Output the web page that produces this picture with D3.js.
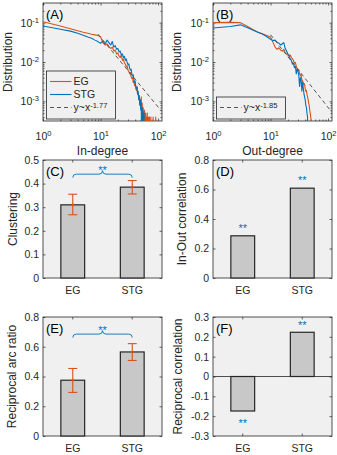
<!DOCTYPE html>
<html>
<head>
<meta charset="utf-8">
<script src="https://cdn.jsdelivr.net/npm/d3@7"></script>
<style>
  body { margin: 0; background: #fff; }
  svg { display: block; }
</style>
</head>
<body>
<script>
// degree distributions: value i belongs to degree i + 1 (0 = no node with that degree)
const egIn = [
  0.106, 0.082, 0.070, 0.062, 0.057, 0.054, 0.051, 0.049, 0.047, 0.044,
  0.031, 0.027, 0.029, 0.025, 0.022, 0.024, 0.019, 0.020, 0.016, 0.017,
  0.014, 0.013, 0.015, 0.011, 0.012, 0.0095, 0.0088, 0.0075, 0.0080, 0.0062,
  0.0058, 0.0050, 0.0054, 0.0042, 0.0038, 0.0040, 0.0030, 0.0033, 0.0025, 0.0028,
  0.0021, 0.0019, 0.0024, 0.0015, 0.0017, 0.0012, 0.0014, 0.0009, 0.0011, 0.0007,
  0.0013, 0.0005, 0.0009, 0, 0.0007, 0.0005, 0, 0.0006, 0.0004, 0,
  0.0005, 0, 0.0004, 0, 0.0005, 0, 0, 0.0004, 0, 0,
  0.0004, 0, 0, 0, 0.0004, 0, 0, 0, 0, 0,
  0, 0.0004, 0, 0, 0, 0, 0, 0, 0, 0, 0.0004, 0
];
const stgIn = [
  0.082, 0.068, 0.061, 0.054, 0.048, 0.043, 0.040, 0.036, 0.033, 0.030,
  0.034, 0.029, 0.036, 0.031, 0.027, 0.033, 0.024, 0.026, 0.021, 0.022,
  0.018, 0.019, 0.015, 0.016, 0.013, 0.014, 0.011, 0.012, 0.0098, 0.0085,
  0.0090, 0.0070, 0.0062, 0.0066, 0.0050, 0.0044, 0.0047, 0.0035, 0.0030, 0.0033,
  0.0024, 0.0021, 0.0023, 0.0016, 0.0018, 0.0011, 0.0014, 0.0008, 0.0011, 0.0006,
  0.0009, 0, 0.0007, 0, 0.0005, 0, 0.0005, 0
];
const egOut = [
  0.100, 0.102, 0.100, 0.080, 0.066, 0.058, 0.053, 0.049, 0.046, 0.043,
  0.032, 0.024, 0.021, 0.023, 0.020, 0.019, 0.021, 0.017, 0.016, 0.015,
  0.014, 0.015, 0.013, 0.012, 0.011, 0.0092, 0.0098, 0.0078, 0.0068, 0.0060,
  0.0064, 0.0050, 0.0045, 0.0048, 0.0036, 0.0033, 0.0030, 0.0026, 0.0028, 0.0021,
  0.0018, 0.0019, 0.0015, 0.0013, 0.0011, 0.0009, 0.0008, 0.0006, 0.0005, 0.0004,
  0.0003, 0
];
const stgOut = [
  0.073, 0.080, 0.088, 0.074, 0.064, 0.057, 0.052, 0.047, 0.042, 0.038,
  0.035, 0.036, 0.032, 0.030, 0.027, 0.029, 0.031, 0.022, 0.019, 0.016,
  0.015, 0.012, 0.011, 0.0088, 0.0094, 0.0072, 0.0078, 0.0050, 0.0066, 0.0058,
  0.0045, 0.0024, 0.0040, 0.0035, 0.0018, 0.0031, 0.0022, 0.0016, 0.0013, 0.0011,
  0.0008, 0.0007, 0.0005, 0.0004, 0
];
// power-law guides y = c * x^-a, [in, out]
const fitExp = [1.77, 1.85];
const fitCoef = [2.5, 3.5];
const fitStart = [9, 10];

const groups = ['EG', 'STG'];
const clustering = [0.31, 0.385];
const clusteringErr = [[0.268, 0.355], [0.356, 0.413]];
const inOutCorr = [0.286, 0.609];
const recipRatio = [0.375, 0.565];
const recipRatioErr = [[0.293, 0.454], [0.508, 0.621]];
const recipCorr = [-0.174, 0.223];

const BG = '#f0f0f0', INK = '#262626', ORANGE = '#D95319', BLUE = '#0072BD', BAR = '#c8c8c8';
const FONT = "'Liberation Sans', Arial, Helvetica, sans-serif";
const TICK = 2.5, MINOR = 1.5;

const svg = d3.select('body').append('svg')
  .attr('width', 337).attr('height', 455)
  .style('font-family', FONT);

const layout = {
  A: [43, 162, 3, 121], B: [213, 332, 3, 121],
  C: [43, 162, 160, 278], D: [213, 332, 160, 278],
  E: [43, 162, 317, 436], F: [213, 332, 317, 436]
};

const makePanel = key => {
  const [x0, x1, y0, y1] = layout[key];
  const w = x1 - x0, h = y1 - y0;
  const g = svg.append('g').attr('transform', `translate(${x0},${y0})`);
  g.append('rect').attr('width', w).attr('height', h).attr('fill', BG);
  g.append('clipPath').attr('id', 'clip' + key)
    .append('rect').attr('width', w).attr('height', h);
  return { g, w, h, key };
};

const sup = (sel, base, exp) => {
  sel.text(null);
  sel.append('tspan').text(base);
  sel.append('tspan').attr('dy', '-0.5em').attr('font-size', '0.72em').text(exp);
};

const styleAxis = sel => {
  sel.select('.domain').remove();
  sel.attr('font-family', FONT);
  sel.selectAll('line').attr('stroke', INK).attr('stroke-width', 0.7);
  sel.selectAll('text').attr('fill', INK);
};

// inward ticks on all four sides, labels only bottom/left
const addAxes = (p, x, y, o) => {
  const { g, w, h } = p;
  const sets = [[o.xv, o.yv, TICK], [o.xm || [], o.ym || [], MINOR]];
  sets.forEach(([xv, yv, len], i) => {
    const bx = d3.axisBottom(x).tickValues(xv).tickSize(-len).tickPadding(o.xPad)
      .tickFormat(i === 0 ? o.xf : '');
    g.append('g').attr('transform', `translate(0,${h})`).call(bx).call(styleAxis)
      .attr('font-size', 10.5);
    g.append('g').call(d3.axisTop(x).tickValues(xv).tickSize(-len).tickFormat('')).call(styleAxis);
    const ly = d3.axisLeft(y).tickValues(yv).tickSize(-len).tickPadding(4)
      .tickFormat(i === 0 ? o.yf : '');
    g.append('g').call(ly).call(styleAxis).attr('font-size', 10.5);
    g.append('g').attr('transform', `translate(${w},0)`)
      .call(d3.axisRight(y).tickValues(yv).tickSize(-len).tickFormat('')).call(styleAxis);
  });
  g.append('rect').attr('width', w).attr('height', h)
    .attr('fill', 'none').attr('stroke', INK).attr('stroke-width', 0.8);
};

const panelLabel = (p, t) =>
  p.g.append('text').attr('x', 3).attr('y', 16).attr('font-size', 13).attr('fill', '#000').text(t);

const yLabel = (p, cx, t) =>
  svg.append('text')
    .attr('transform', `translate(${cx},${layout[p.key][2] + p.h / 2}) rotate(-90)`)
    .attr('text-anchor', 'middle').attr('dy', '0.35em')
    .attr('font-size', 12).attr('fill', INK).text(t);

const xLabel = (p, t) =>
  p.g.append('text').attr('x', p.w / 2).attr('y', p.h + 33.5)
    .attr('text-anchor', 'middle').attr('font-size', 12).attr('fill', INK).text(t);

// ---------- degree distribution panels ----------
const degreePanel = (key, eg, stg, fi, label, xl, ylx, legendFull) => {
  const p = makePanel(key);
  const x = d3.scaleLog().domain([1, 117]).range([0, p.w]);
  const y = d3.scaleLog().domain([Math.pow(10, -3.5), Math.pow(10, -0.5)]).range([p.h, 0]);

  const minorX = [2, 3, 4, 5, 6, 7, 8, 9, 20, 30, 40, 50, 60, 70, 80, 90];
  const minorY = [];
  [1e-4, 1e-3, 1e-2, 1e-1].forEach(d => d3.range(2, 10).forEach(m => {
    const v = d * m;
    if (v > y.domain()[0] && v < y.domain()[1]) minorY.push(v);
  }));

  addAxes(p, x, y, {
    xv: [1, 10, 100], yv: [1e-3, 1e-2, 1e-1], xm: minorX, ym: minorY,
    xf: d => d, yf: d => d, xPad: 11.5
  });
  // 10^n tick labels
  p.g.selectAll('.tick text').each(function(d) {
    const t = d3.select(this);
    if (!t.text()) return;
    sup(t, '10', Math.round(Math.log10(d)).toString());
  });

  const line = d3.line()
    .x(d => x(d[0]))
    .y(d => y(Math.max(d[1], 1e-5)));
  const plot = p.g.append('g').attr('clip-path', `url(#clip${key})`);
  [[eg, ORANGE], [stg, BLUE]].forEach(([s, c]) => {
    plot.append('path')
      .datum(s.map((v, i) => [i + 1, v]))
      .attr('d', line).attr('fill', 'none').attr('stroke', c)
      .attr('stroke-width', 1.1).attr('stroke-linejoin', 'round');
  });
  const fit = [fitStart[fi], x.domain()[1]].map(k => [k, fitCoef[fi] * Math.pow(k, -fitExp[fi])]);
  plot.append('path').datum(fit).attr('d', line).attr('fill', 'none')
    .attr('stroke', '#555').attr('stroke-width', 1).attr('stroke-dasharray', '4,3');

  panelLabel(p, label);
  xLabel(p, xl);
  yLabel(p, ylx, 'Distribution');

  // legend
  const lg = p.g.append('g');
  const rows = legendFull
    ? [['EG', ORANGE, null], ['STG', BLUE, null], ['fit', '#555', '4,3']]
    : [['fit', '#555', '4,3']];
  const lx = 3.5, lw = 69, rowH = 13;
  const lh = rows.length * rowH + 9;
  const ly = p.h - 2 - lh;
  lg.append('rect').attr('x', lx).attr('y', ly).attr('width', lw).attr('height', lh)
    .attr('fill', BG).attr('stroke', INK).attr('stroke-width', 0.8);
  rows.forEach(([name, c, dash], i) => {
    const cy = ly + 10.5 + i * rowH;
    lg.append('line').attr('x1', lx + 3.5).attr('x2', lx + 25)
      .attr('y1', cy).attr('y2', cy).attr('stroke', c).attr('stroke-width', 1.1)
      .attr('stroke-dasharray', dash);
    const t = lg.append('text').attr('x', lx + 27).attr('y', cy).attr('dy', '0.36em')
      .attr('font-size', 10.5).attr('fill', INK);
    if (name === 'fit') sup(t, 'y~x', '-' + fitExp[fi].toFixed(2));
    else t.text(name);
  });
};

degreePanel('A', egIn, stgIn, 0, '(A)', 'In-degree', 7.5, true);
degreePanel('B', egOut, stgOut, 1, '(B)', 'Out-degree', 177, false);

// ---------- bar panels ----------
const fmt = d => Math.abs(d) < 1e-9 ? '0' : d.toFixed(1);

const brace = (g, x1, x2, yb) => {
  const m = (x1 + x2) / 2, r = 3.5;
  const pth = d3.path();
  pth.moveTo(x1, yb + r);
  pth.quadraticCurveTo(x1, yb, x1 + r, yb);
  pth.lineTo(m - r, yb);
  pth.quadraticCurveTo(m, yb, m, yb - r);
  pth.quadraticCurveTo(m, yb, m + r, yb);
  pth.lineTo(x2 - r, yb);
  pth.quadraticCurveTo(x2, yb, x2, yb + r);
  g.append('path').attr('d', pth.toString()).attr('fill', 'none')
    .attr('stroke', BLUE).attr('stroke-width', 0.9);
};

const stars = (g, cx, cy) =>
  g.append('text').attr('x', cx).attr('y', cy + 6.3).attr('text-anchor', 'middle')
    .attr('font-size', 11).attr('fill', BLUE).text('**');

const barPanel = (key, values, domain, nTicks, label, ylText, ylx, opts) => {
  const p = makePanel(key);
  const x = d3.scaleBand().domain(groups).range([0, p.w]).paddingInner(0.6).paddingOuter(0.3);
  const y = d3.scaleLinear().domain(domain).range([p.h, 0]);

  addAxes(p, x, y, { xv: groups, yv: y.ticks(nTicks), xf: d => d, yf: fmt, xPad: 8.5 });

  if (domain[0] < 0) {
    p.g.append('line').attr('x1', 0).attr('x2', p.w).attr('y1', y(0)).attr('y2', y(0))
      .attr('stroke', INK).attr('stroke-width', 0.8);
  }

  p.g.selectAll('rect.bar').data(groups).join('rect').attr('class', 'bar')
    .attr('x', d => x(d))
    .attr('width', x.bandwidth())
    .attr('y', (d, i) => y(Math.max(0, values[i])))
    .attr('height', (d, i) => Math.abs(y(values[i]) - y(0)))
    .attr('fill', BAR).attr('stroke', INK).attr('stroke-width', 1.2);

  const cx = d => x(d) + x.bandwidth() / 2;

  if (opts.err) {
    const eg = p.g.append('g').attr('stroke', ORANGE).attr('stroke-width', 1.1);
    groups.forEach((d, i) => {
      const [lo, hi] = opts.err[i];
      eg.append('line').attr('x1', cx(d)).attr('x2', cx(d)).attr('y1', y(lo)).attr('y2', y(hi));
      [lo, hi].forEach(v => eg.append('line')
        .attr('x1', cx(d) - 4.5).attr('x2', cx(d) + 4.5).attr('y1', y(v)).attr('y2', y(v)));
      p.g.append('circle').attr('cx', cx(d)).attr('cy', y(values[i])).attr('r', 1.3).attr('fill', ORANGE);
    });
  }
  if (opts.brace != null) {
    const yb = y(opts.brace);
    brace(p.g, cx('EG'), cx('STG'), yb);
    stars(p.g, (cx('EG') + cx('STG')) / 2, yb - 6.5);
  }
  if (opts.starEach) {
    groups.forEach((d, i) => {
      const v = values[i];
      stars(p.g, cx(d), v >= 0 ? y(v) - 10 : y(v) + 10);
    });
  }

  panelLabel(p, label);
  yLabel(p, ylx, ylText);
};

barPanel('C', clustering, [0, 0.5], 5, '(C)', 'Clustering', 12.5, { err: clusteringErr, brace: 0.44 });
barPanel('D', inOutCorr, [0, 0.8], 4, '(D)', 'In-Out correlation', 182, { starEach: true });
barPanel('E', recipRatio, [0, 0.8], 4, '(E)', 'Reciprocal arc ratio', 12, { err: recipRatioErr, brace: 0.685 });
barPanel('F', recipCorr, [-0.3, 0.3], 6, '(F)', 'Reciprocal correlation', 178, { starEach: true });
</script>
</body>
</html>
